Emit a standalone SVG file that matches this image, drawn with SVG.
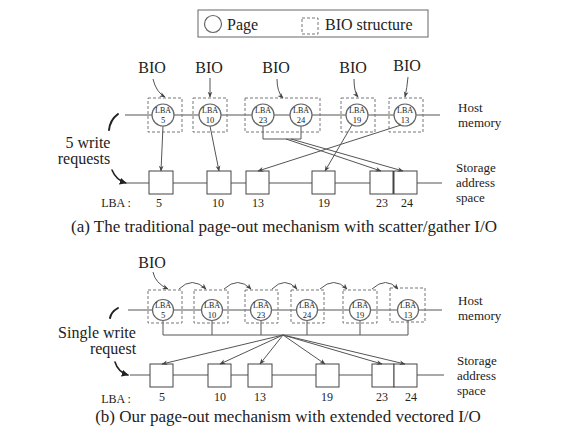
<svg xmlns="http://www.w3.org/2000/svg" width="576" height="432" viewBox="0 0 576 432" font-family="'Liberation Serif', 'DejaVu Serif', 'Times New Roman', serif">
<defs>
<marker id="ah" viewBox="0 0 10 10" refX="9" refY="5" markerWidth="6" markerHeight="6" orient="auto" markerUnits="userSpaceOnUse"><path d="M0,1 L10,5 L0,9 L3,5 z" fill="#444"/></marker>
<marker id="ahb" viewBox="0 0 10 10" refX="9" refY="5" markerWidth="7" markerHeight="7" orient="auto" markerUnits="userSpaceOnUse"><path d="M0,0 L10,5 L0,10 z" fill="#222"/></marker>
</defs>
<style>
text{font-family:'Liberation Serif','DejaVu Serif','Times New Roman',serif;fill:#222}
.ln{stroke:#555;stroke-width:1;fill:none}
.ar{stroke:#555;stroke-width:1;fill:none;marker-end:url(#ah)}
.pg{fill:#fff;stroke:#666;stroke-width:1.2}
.bio{fill:none;stroke:#777;stroke-width:1;stroke-dasharray:3,2}
.sb{fill:#fff;stroke:#444;stroke-width:1}
.lba{font-size:8px;text-anchor:middle}
.num{font-size:8.5px;text-anchor:middle}
.lab{font-size:16px;text-anchor:middle}
.side{font-size:13px}
.ax{font-size:12px;text-anchor:middle}
.cap{font-size:17px;text-anchor:middle}
.req{font-size:16px;text-anchor:middle}
.brush{stroke:#222;stroke-width:2;fill:none;stroke-linecap:round}
</style>
<rect width="576" height="432" fill="#fff"/>

<g id="legend">
<rect x="198" y="10" width="230" height="27" fill="#fff" stroke="#666" stroke-width="1"/>
<circle cx="213" cy="24" r="8.5" class="pg"/>
<text x="227" y="30" style="font-size:16px">Page</text>
<rect x="302" y="18" width="16" height="16" class="bio"/>
<text x="325" y="30" style="font-size:16px">BIO structure</text>
</g>

<!-- ===== Part (a) ===== -->
<g id="a-lines">
<line x1="125" y1="115" x2="440" y2="115" class="ln"/>
<line x1="127" y1="183" x2="442" y2="183" class="ln"/>
</g>

<g id="a-bio-labels">
<text x="152" y="73" class="lab">BIO</text>
<text x="209" y="73" class="lab">BIO</text>
<text x="276" y="73" class="lab">BIO</text>
<text x="353" y="73" class="lab">BIO</text>
<text x="407" y="71" class="lab">BIO</text>
</g>

<g id="a-bio1"><rect x="148" y="98" width="34" height="34" class="bio"/><circle cx="163" cy="115" r="11" class="pg"/><text x="163" y="113" class="lba">LBA</text><text x="163" y="123" class="num">5</text></g>
<g id="a-bio2"><rect x="193" y="98" width="34" height="34" class="bio"/><circle cx="210" cy="115" r="11" class="pg"/><text x="210" y="113" class="lba">LBA</text><text x="210" y="123" class="num">10</text></g>
<g id="a-bio3"><rect x="245" y="98" width="75" height="34" class="bio"/><circle cx="263" cy="115" r="11" class="pg"/><text x="263" y="113" class="lba">LBA</text><text x="263" y="123" class="num">23</text><circle cx="301" cy="115" r="11" class="pg"/><text x="301" y="113" class="lba">LBA</text><text x="301" y="123" class="num">24</text></g>
<g id="a-bio4"><rect x="341" y="98" width="34" height="34" class="bio"/><circle cx="357" cy="115" r="11" class="pg"/><text x="357" y="113" class="lba">LBA</text><text x="357" y="123" class="num">19</text></g>
<g id="a-bio5"><rect x="389" y="98" width="34" height="34" class="bio"/><circle cx="405" cy="115" r="11" class="pg"/><text x="405" y="113" class="lba">LBA</text><text x="405" y="123" class="num">13</text></g>

<g id="a-storage">
<rect x="149" y="171" width="24" height="23" class="sb"/>
<rect x="207" y="171" width="24" height="23" class="sb"/>
<rect x="246" y="171" width="23" height="23" class="sb"/>
<rect x="312" y="171" width="23" height="23" class="sb"/>
<rect x="370" y="171" width="23" height="23" class="sb"/>
<rect x="394" y="171" width="23" height="23" class="sb"/>
<line x1="393.5" y1="171" x2="393.5" y2="194" stroke="#444" stroke-width="1"/>
</g>

<g id="a-connectors">
<path d="M153,79 Q156,92 165,97" class="ar"/>
<path d="M210,78 L210,97" class="ar"/>
<path d="M277,79 Q277,92 283,98" class="ar"/>
<path d="M354,79 Q354,92 358,97" class="ar"/>
<path d="M408,77 Q407,88 405,97" class="ar"/>
<path d="M163,126 L161,171" class="ar"/>
<path d="M210,126 L219,171" class="ar"/>
<path d="M263,126 V139 H301 V126" class="ln"/>
<path d="M286,139 L381,171" class="ar"/>
<path d="M291,139 L403,171" class="ar"/>
<path d="M352,125 L325,171" class="ar"/>
<path d="M401,125 L258,171" class="ar"/>
<path d="M118,114 Q110,120 109,130" class="brush"/>
<path d="M112,170 Q116,180 126,183" class="brush" marker-end="url(#ahb)" style="stroke-width:1.6"/>
</g>

<g id="a-texts">
<text x="88" y="148" class="req">5 write</text>
<text x="84" y="164" class="req">requests</text>
<text x="458" y="112" class="side">Host</text>
<text x="458" y="127" class="side">memory</text>
<text x="456" y="172" class="side">Storage</text>
<text x="456" y="187" class="side">address</text>
<text x="456" y="202" class="side">space</text>
<text x="116" y="207" class="ax">LBA :</text>
<text x="159" y="207" class="ax">5</text>
<text x="218" y="207" class="ax">10</text>
<text x="258" y="207" class="ax">13</text>
<text x="324" y="207" class="ax">19</text>
<text x="382" y="207" class="ax">23</text>
<text x="407" y="207" class="ax">24</text>
<text x="284" y="232" class="cap">(a) The traditional page-out mechanism with scatter/gather I/O</text>
</g>

<!-- ===== Part (b) ===== -->
<g id="b-lines">
<line x1="128" y1="310" x2="442" y2="310" class="ln"/>
<line x1="130" y1="375" x2="444" y2="375" class="ln"/>
<path d="M163,321 V335 M212,321 V335 M261,321 V335 M307,321 V335 M360,321 V335 M408,321 V335 M163,335 H408" class="ln"/>
</g>

<g id="b-bio1"><rect x="148" y="290" width="34" height="33" class="bio"/><circle cx="163" cy="310" r="10.5" class="pg"/><text x="163" y="308" class="lba">LBA</text><text x="163" y="318" class="num">5</text></g>
<g id="b-bio2"><rect x="194" y="290" width="34" height="33" class="bio"/><circle cx="212" cy="310" r="10.5" class="pg"/><text x="212" y="308" class="lba">LBA</text><text x="212" y="318" class="num">10</text></g>
<g id="b-bio3"><rect x="245" y="290" width="33" height="33" class="bio"/><circle cx="261" cy="310" r="10.5" class="pg"/><text x="261" y="308" class="lba">LBA</text><text x="261" y="318" class="num">23</text></g>
<g id="b-bio4"><rect x="291" y="290" width="33" height="33" class="bio"/><circle cx="307" cy="310" r="10.5" class="pg"/><text x="307" y="308" class="lba">LBA</text><text x="307" y="318" class="num">24</text></g>
<g id="b-bio5"><rect x="343" y="290" width="34" height="33" class="bio"/><circle cx="360" cy="310" r="10.5" class="pg"/><text x="360" y="308" class="lba">LBA</text><text x="360" y="318" class="num">19</text></g>
<g id="b-bio6"><rect x="390" y="288" width="35" height="34" class="bio"/><circle cx="408" cy="310" r="10.5" class="pg"/><text x="408" y="308" class="lba">LBA</text><text x="408" y="318" class="num">13</text></g>

<g id="b-storage">
<rect x="150" y="364" width="23" height="23" class="sb"/>
<rect x="208" y="364" width="23" height="23" class="sb"/>
<rect x="248" y="364" width="24" height="23" class="sb"/>
<rect x="316" y="364" width="23" height="23" class="sb"/>
<rect x="372" y="364" width="22" height="23" class="sb"/>
<rect x="394" y="364" width="23" height="23" class="sb"/>
</g>

<g id="b-connectors">
<path d="M153,272 Q155,283 168,289" class="ar"/>
<path d="M179,289 Q192,276 206,289" class="ar"/>
<path d="M224,289 Q238,276 251,289" class="ar"/>
<path d="M272,289 Q285,276 297,289" class="ar"/>
<path d="M320,289 Q334,276 347,289" class="ar"/>
<path d="M372,289 Q386,276 398,289" class="ar"/>
<path d="M283,335 L162,364" class="ar"/>
<path d="M283,335 L220,364" class="ar"/>
<path d="M283,335 L260,364" class="ar"/>
<path d="M283,335 L325,364" class="ar"/>
<path d="M283,335 L382,364" class="ar"/>
<path d="M283,335 L405,364" class="ar"/>
<path d="M118,308 Q111,312 110,318" class="brush"/>
<path d="M115,362 Q118,372 128,375" class="brush" marker-end="url(#ahb)" style="stroke-width:1.6"/>
</g>

<g id="b-texts">
<text x="152" y="268" class="lab">BIO</text>
<text x="97" y="338" class="req">Single write</text>
<text x="113" y="354" class="req">request</text>
<text x="458" y="305" class="side">Host</text>
<text x="458" y="320" class="side">memory</text>
<text x="457" y="365" class="side">Storage</text>
<text x="457" y="380" class="side">address</text>
<text x="457" y="395" class="side">space</text>
<text x="116" y="403" class="ax">LBA :</text>
<text x="162" y="401" class="ax">5</text>
<text x="220" y="401" class="ax">10</text>
<text x="260" y="401" class="ax">13</text>
<text x="327" y="401" class="ax">19</text>
<text x="382" y="401" class="ax">23</text>
<text x="411" y="401" class="ax">24</text>
<text x="288" y="422" class="cap">(b) Our page-out mechanism with extended vectored I/O</text>
</g>
</svg>
